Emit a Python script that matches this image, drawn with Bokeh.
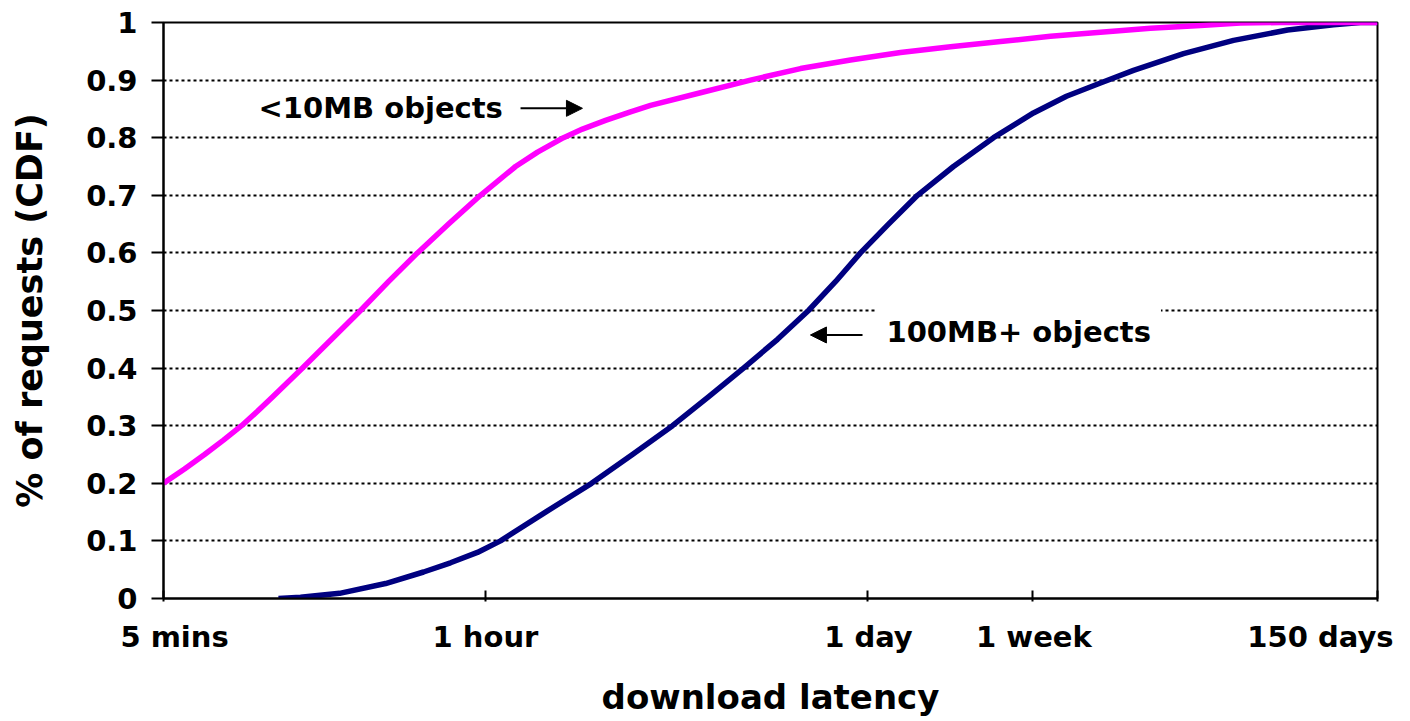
from bokeh.plotting import figure
from bokeh.models import FixedTicker, Label, Arrow, NormalHead, Range1d, LinearAxis
from bokeh.embed import file_html
from bokeh.resources import INLINE

# x values are positions along the (non-uniform) latency axis, 0 = 5 mins, 100 = 150 days
x_tick_pos = [0, 26.52, 57.99, 71.58, 100]
x_tick_labels = ["5 mins", "1 hour", "1 day", "1 week", "150 days"]
# where the original chart centres each tick label (last one pulled in from the edge)
x_label_pos = [0.91, 26.52, 58.07, 71.7, 95.3]

y_ticks = [0, 0.1, 0.2, 0.3, 0.4, 0.5, 0.6, 0.7, 0.8, 0.9, 1]
y_tick_labels = ["0", "0.1", "0.2", "0.3", "0.4", "0.5", "0.6", "0.7", "0.8", "0.9", "1"]

# <10MB objects
small_x = [0, 1.73, 3.38, 4.94, 6.43, 7.74, 8.98, 11.45, 13.84, 16.23, 18.53, 20.92,
           23.48, 26.11, 29.0, 30.81, 32.95, 34.51, 36.41, 38.47, 40.12, 44.23, 48.35,
           52.47, 56.59, 60.71, 64.83, 68.95, 73.06, 77.18, 81.30, 85.42, 88.71, 92.0, 100]
small_cdf = [0.2, 0.225, 0.25, 0.275, 0.3, 0.325, 0.35, 0.4, 0.45, 0.5, 0.55, 0.6,
             0.65, 0.7, 0.75, 0.775, 0.8, 0.815, 0.83, 0.845, 0.856, 0.878, 0.9,
             0.92, 0.935, 0.948, 0.958, 0.967, 0.976, 0.983, 0.99, 0.995, 0.999, 1.0, 1.0]

# 100MB+ objects
large_x = [9.47, 11.29, 14.50, 18.29, 21.42, 23.64, 25.86, 27.76, 31.47, 35.26, 38.63,
           41.93, 44.89, 47.78, 50.58, 53.13, 55.35, 57.41, 59.72, 62.11, 65.07, 68.37,
           71.66, 74.38, 77.18, 79.90, 84.02, 88.14, 92.59, 96.38, 98.60, 100]
large_cdf = [0, 0.002, 0.009, 0.026, 0.046, 0.062, 0.08, 0.1, 0.15, 0.2, 0.25,
             0.3, 0.35, 0.4, 0.45, 0.5, 0.55, 0.6, 0.65, 0.7, 0.75, 0.8,
             0.843, 0.872, 0.895, 0.917, 0.946, 0.969, 0.987, 0.996, 1.0, 1.0]

FONT = "DejaVu Sans"

p = figure(width=1408, height=719, output_backend="svg", toolbar_location=None,
           x_range=Range1d(0, 100), y_range=Range1d(0, 1),
           min_border_left=163, min_border_right=31, min_border_top=22, min_border_bottom=120)

p.background_fill_color = "white"
p.border_fill_color = "white"
p.outline_line_color = "black"
p.outline_line_width = 2


def style_axis(ax):
    ax.axis_line_color = "black"
    ax.axis_line_width = 2
    ax.major_tick_line_color = "black"
    ax.major_tick_line_width = 2
    ax.minor_tick_line_color = None
    ax.major_label_text_font = FONT
    ax.major_label_text_font_style = "bold"
    ax.major_label_text_font_size = "29px"
    ax.major_label_text_color = "black"
    ax.axis_label_text_font = FONT
    ax.axis_label_text_font_style = "bold"
    ax.axis_label_text_font_size = "34px"
    ax.axis_label_text_color = "black"


# x axis: tick marks at the true positions
xa = p.xaxis[0]
style_axis(xa)
xa.ticker = FixedTicker(ticks=x_tick_pos)
xa.major_label_overrides = {v: "" for v in x_tick_pos}
xa.major_label_text_font_size = "1px"
xa.major_label_standoff = 0
xa.major_tick_in = 8
xa.major_tick_out = 3

# x axis: tick labels (and title) where the original draws them
xl = LinearAxis(ticker=FixedTicker(ticks=x_label_pos),
                major_label_overrides=dict(zip(x_label_pos, x_tick_labels)))
style_axis(xl)
xl.axis_line_color = None
xl.major_tick_line_color = None
xl.major_tick_in = 0
xl.major_tick_out = 0
xl.major_label_standoff = 18
xl.axis_label = "download latency"
xl.axis_label_standoff = 20
p.add_layout(xl, "below")

# y axis
ya = p.yaxis[0]
style_axis(ya)
ya.ticker = FixedTicker(ticks=y_ticks)
ya.major_label_overrides = dict(zip(y_ticks, y_tick_labels))
ya.major_tick_in = 0
ya.major_tick_out = 12
ya.major_label_standoff = 14
ya.axis_label = "% of requests (CDF)"
ya.axis_label_text_font_size = "35px"
ya.axis_label_standoff = 33

# grid
p.xgrid.visible = False
p.ygrid.grid_line_color = "black"
p.ygrid.grid_line_width = 2
p.ygrid.grid_line_dash = "3 3"

# lines
p.line(large_x, large_cdf, line_color="#000080", line_width=5.5, line_join="round")
p.line(small_x, small_cdf, line_color="#FF00FF", line_width=5.5, line_join="round")

# annotations
p.add_layout(Label(x=7.83, y=0.851, text="<10MB objects", text_align="left",
                   text_baseline="middle", text_font=FONT, text_font_style="bold",
                   text_font_size="29px", text_color="black"))
p.add_layout(Arrow(end=NormalHead(size=16, fill_color="black", line_color="black"),
                   x_start=29.41, y_start=0.851, x_end=34.51, y_end=0.851,
                   line_color="black", line_width=2))

p.add_layout(Label(x=58.73, y=0.463, text="100MB+ objects", text_align="left",
                   text_baseline="middle", text_font=FONT, text_font_style="bold",
                   text_font_size="29px", text_color="black",
                   background_fill_color="white", padding=10))
p.add_layout(Arrow(end=NormalHead(size=16, fill_color="black", line_color="black"),
                   x_start=57.58, y_start=0.4575, x_end=53.29, y_end=0.4575,
                   line_color="black", line_width=2))

open("out.html", "w").write(file_html(p, INLINE))
